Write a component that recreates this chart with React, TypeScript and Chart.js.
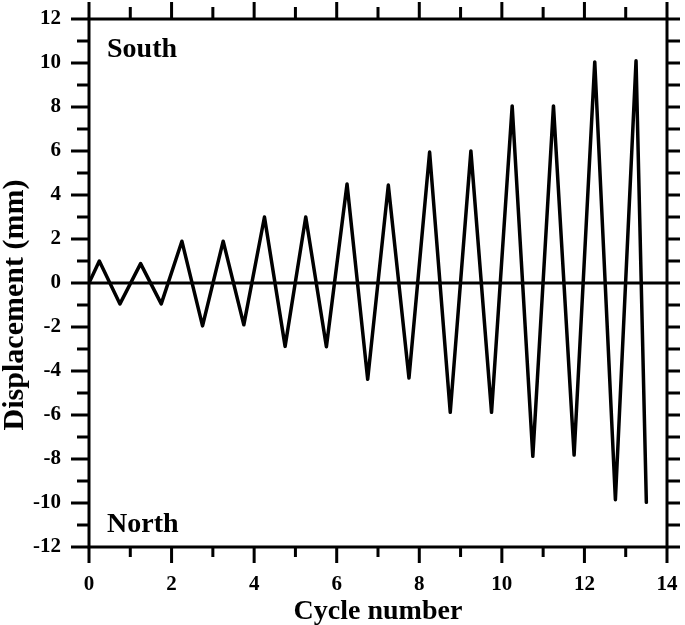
import React, { useEffect, useRef } from "react";
import { Chart, registerables } from "chart.js";

Chart.register(...registerables);

// ---- data ----
const cycleX = [
  0, 0.25, 0.75, 1.25, 1.75, 2.25, 2.75, 3.25, 3.75, 4.25, 4.75, 5.25, 5.75,
  6.25, 6.75, 7.25, 7.75, 8.25, 8.75, 9.25, 9.75, 10.25, 10.75, 11.25, 11.75,
  12.25, 12.75, 13.25, 13.5,
];
const displacement = [
  0, 1.0, -0.95, 0.88, -0.95, 1.9, -1.95, 1.9, -1.9, 3.0, -2.88, 3.0, -2.9,
  4.5, -4.38, 4.45, -4.32, 5.95, -5.88, 6.0, -5.88, 8.05, -7.88, 8.05, -7.82,
  10.05, -9.85, 10.1, -9.97,
];
const xTickValues = [0, 2, 4, 6, 8, 10, 12, 14];
const yTickValues = [-12, -10, -8, -6, -4, -2, 0, 2, 4, 6, 8, 10, 12];
const xMin = 0;
const xMax = 14;
const yMin = -12;
const yMax = 12;
const xTitle = "Cycle number";
const yTitle = "Displacement (mm)";
const topLabel = "South";
const bottomLabel = "North";

const FONT = '"Liberation Serif", "Times New Roman", serif';

const zeroPadding = (s: any) => {
  s.paddingTop = 0;
  s.paddingBottom = 0;
  s.paddingLeft = 0;
  s.paddingRight = 0;
};

const framePlugin = {
  id: "framePlugin",
  beforeDatasetsDraw(chart: any) {
    const { ctx, chartArea } = chart;
    const y = chart.scales.y;
    ctx.save();
    ctx.strokeStyle = "#000";
    ctx.lineWidth = 3;
    ctx.beginPath();
    const py = y.getPixelForValue(0);
    ctx.moveTo(chartArea.left, py);
    ctx.lineTo(chartArea.right, py);
    ctx.stroke();
    ctx.restore();
  },
  afterDraw(chart: any) {
    const { ctx, chartArea } = chart;
    const xs = chart.scales.x;
    const ys = chart.scales.y;
    const { left, right, top, bottom } = chartArea;
    ctx.save();
    ctx.strokeStyle = "#000";
    ctx.lineWidth = 3;
    ctx.lineCap = "butt";
    // frame
    ctx.beginPath();
    ctx.rect(left, top, right - left, bottom - top);
    ctx.stroke();
    ctx.beginPath();
    // x ticks (bottom & top)
    for (let v = xMin; v <= xMax; v += 1) {
      const px = xs.getPixelForValue(v);
      const major = v % 2 === 0;
      ctx.moveTo(px, bottom);
      ctx.lineTo(px, bottom + (major ? 16 : 10));
      ctx.moveTo(px, top);
      ctx.lineTo(px, top - (major ? 17 : 12));
    }
    // y ticks (left & right)
    for (let v = yMin; v <= yMax; v += 1) {
      const py = ys.getPixelForValue(v);
      const major = v % 2 === 0;
      ctx.moveTo(left, py);
      ctx.lineTo(left - (major ? 18 : 12), py);
      ctx.moveTo(right, py);
      ctx.lineTo(right + 13, py);
    }
    ctx.stroke();

    ctx.fillStyle = "#000";
    ctx.font = `bold 28px ${FONT}`;
    ctx.textAlign = "left";
    ctx.textBaseline = "alphabetic";
    ctx.fillText(topLabel, left + 18, 57);
    ctx.fillText(bottomLabel, left + 18, 532);

    ctx.font = `bold 28px ${FONT}`;
    ctx.textAlign = "center";
    ctx.fillText(xTitle, (left + right) / 2, 619);

    ctx.font = `bold 30px ${FONT}`;
    ctx.translate(23, 305);
    ctx.rotate(-Math.PI / 2);
    ctx.fillText(yTitle, 0, 0);
    ctx.restore();
  },
};

export default function App() {
  const ref = useRef<HTMLCanvasElement | null>(null);
  useEffect(() => {
    if (!ref.current) return;
    const chart = new Chart(ref.current, {
      type: "line",
      data: {
        datasets: [
          {
            data: cycleX.map((x, i) => ({ x, y: displacement[i] })),
            borderColor: "#000",
            borderWidth: 3.5,
            borderJoinStyle: "round",
            borderCapStyle: "round",
            pointRadius: 0,
            tension: 0,
            fill: false,
          },
        ],
      },
      options: {
        animation: false,
        responsive: false,
        layout: { padding: { top: 19, right: 18, left: 0, bottom: 0 } },
        plugins: {
          legend: { display: false },
          tooltip: { enabled: false },
        },
        scales: {
          x: {
            type: "linear",
            min: xMin,
            max: xMax,
            afterBuildTicks: (s: any) => {
              s.ticks = xTickValues.map((value) => ({ value }));
            },
            afterFit: (s: any) => {
              s.height = 78;
              zeroPadding(s);
            },
            grid: { display: false, drawTicks: false },
            border: { display: false },
            ticks: {
              color: "#000",
              padding: 25,
              maxRotation: 0,
              autoSkip: false,
              font: { family: FONT, size: 21, weight: "bold" },
            },
          },
          y: {
            type: "linear",
            min: yMin,
            max: yMax,
            afterBuildTicks: (s: any) => {
              s.ticks = yTickValues.map((value) => ({ value }));
            },
            afterFit: (s: any) => {
              s.width = 89;
              zeroPadding(s);
            },
            grid: { display: false, drawTicks: false },
            border: { display: false },
            ticks: {
              color: "#000",
              padding: 28,
              autoSkip: false,
              font: { family: FONT, size: 21, weight: "bold" },
            },
          },
        },
      },
      plugins: [framePlugin],
    } as any);
    return () => chart.destroy();
  }, []);
  return (
    <div style={{ position: "absolute", left: 0, top: 0, width: 685, height: 625, background: "#fff" }}>
      <canvas ref={ref} width={685} height={625} style={{ display: "block" }} />
    </div>
  );
}
